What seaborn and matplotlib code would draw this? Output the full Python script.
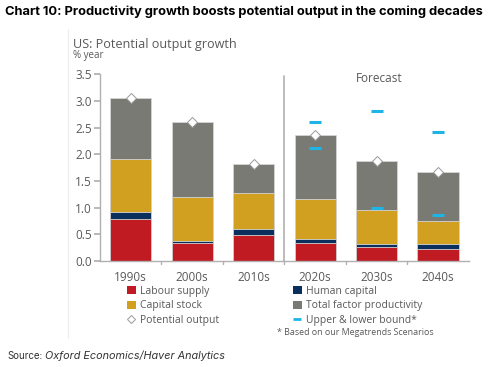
import numpy as np
import pandas as pd
import matplotlib
matplotlib.use("Agg")
import matplotlib.pyplot as plt
import seaborn as sns
from matplotlib.lines import Line2D
from matplotlib.patches import Patch

# datos del grafico
decades = ["1990s", "2000s", "2010s", "2020s", "2030s", "2040s"]
labour_supply = [0.79, 0.34, 0.49, 0.34, 0.27, 0.23]
human_capital = [0.12, 0.03, 0.10, 0.07, 0.05, 0.08]
capital_stock = [1.00, 0.82, 0.69, 0.75, 0.64, 0.43]
tfp = [1.15, 1.42, 0.53, 1.20, 0.92, 0.93]
potential_output = [3.06, 2.61, 1.81, 2.36, 1.88, 1.67]
upper_bound = [None, None, None, 2.61, 2.81, 2.42]
lower_bound = [None, None, None, 2.12, 0.99, 0.86]

c_red = "#C01A22"
c_navy = "#0A2F5C"
c_gold = "#D2A021"
c_grey = "#7A7A75"
c_cyan = "#1EB4E6"
c_text = "#595959"

sns.set_theme(style="white")
plt.rcParams["font.family"] = ["Open Sans", "DejaVu Sans"]

df = pd.DataFrame({
    "decade": decades,
    "labour": labour_supply,
    "human": human_capital,
    "capital": capital_stock,
    "tfp": tfp,
    "potential": potential_output,
    "upper": upper_bound,
    "lower": lower_bound,
})
# acumulados para las barras apiladas
df["c1"] = df["labour"]
df["c2"] = df["c1"] + df["human"]
df["c3"] = df["c2"] + df["capital"]
df["c4"] = df["c3"] + df["tfp"]

fig = plt.figure(figsize=(4.95, 3.67), dpi=100)
ax = fig.add_axes([0.202, 0.289, 0.745, 0.5087])

# capas de arriba hacia abajo
for col, color in [("c4", c_grey), ("c3", c_gold), ("c2", c_navy), ("c1", c_red)]:
    sns.barplot(data=df, x="decade", y=col, color=color, width=0.67,
                saturation=1, edgecolor="#d4d4d4", linewidth=0.6, ax=ax)

sns.scatterplot(data=df, x="decade", y="potential", marker="D", s=26,
                color="white", edgecolor="#9a9a9a", linewidth=0.7, zorder=5, ax=ax)
bounds = df.dropna(subset=["upper"])
for col in ["upper", "lower"]:
    sns.scatterplot(data=bounds, x="decade", y=col, marker="_", s=80,
                    color=c_cyan, linewidth=2.2, zorder=5, ax=ax)

ax.set_xlim(-0.5, 5.5)
ax.set_ylim(0, 3.5)
ax.set_yticks(np.arange(0, 3.51, 0.5))
ax.set_yticklabels([f"{v:.1f}" for v in np.arange(0, 3.51, 0.5)])
ax.set_xlabel("")
ax.set_ylabel("")
for s in ["top", "right"]:
    ax.spines[s].set_visible(False)
for s in ["left", "bottom"]:
    ax.spines[s].set_color("#b0b0b0")
    ax.spines[s].set_linewidth(1.0)
ax.spines["left"].set_bounds(0, 3.5)

ax.tick_params(axis="y", left=True, length=4, color="#b0b0b0", labelsize=8.5,
               labelcolor=c_text, pad=2)
ax.tick_params(axis="x", bottom=False, length=0, labelsize=8.5, labelcolor=c_text, pad=7)
# marcas entre categorias
for xb in np.arange(0.5, 5.0, 1.0):
    ax.plot([xb, xb], [0, -0.05], color="#b0b0b0", lw=1.0, clip_on=False)
ax.axvline(2.5, ymin=0, ymax=0.99, color="#b0b0b0", lw=1.2)
ax.text(4.05, 3.42, "Forecast", ha="center", va="center", fontsize=8.5, color=c_text)

# titulos
fig.text(0.01, 0.967, "Chart 10: Productivity growth boosts potential output in the coming decades",
         fontsize=9.3, fontweight="bold", color="black", family=["Inter", "DejaVu Sans"],
         va="center")
fig.text(0.147, 0.88, "US: Potential output growth", fontsize=9.1, color=c_text, va="center")
fig.text(0.147, 0.848, "% year", fontsize=7, color=c_text, va="center")

# borde de la imagen original
fig.add_artist(Line2D([0.137, 0.137], [0.08, 0.92], color="#ececec", lw=0.8))

handles = [
    Patch(facecolor=c_red, edgecolor="none"),
    Patch(facecolor=c_gold, edgecolor="none"),
    Line2D([], [], marker="D", ls="none", markersize=4, markerfacecolor="white",
           markeredgecolor="#9a9a9a", markeredgewidth=0.7),
    Patch(facecolor=c_navy, edgecolor="none"),
    Patch(facecolor=c_grey, edgecolor="none"),
    Line2D([], [], marker="_", ls="none", markersize=6, color=c_cyan, markeredgewidth=2),
]
labels = ["Labour supply", "Capital stock", "Potential output",
          "Human capital", "Total factor productivity", "Upper & lower bound*"]
fig.legend(handles, labels, ncol=2, loc="upper left", bbox_to_anchor=(0.257, 0.222),
           frameon=False, fontsize=7.5, labelcolor=c_text, handlelength=0.8,
           handleheight=0.8, handletextpad=0.45, columnspacing=7.1, labelspacing=0.35,
           borderpad=0, borderaxespad=0)
fig.text(0.56, 0.095, "* Based on our Megatrends Scenarios", fontsize=6.4, color=c_text,
         va="center")
fig.text(0.016, 0.03, "Source:", fontsize=7, color="#333333", va="center",
         family=["Inter", "DejaVu Sans"])
fig.text(0.091, 0.03, "Oxford Economics/Haver Analytics", fontsize=7.8, color="#333333",
         va="center", style="italic", family=["Inter", "DejaVu Sans"])

fig.savefig("out.png", dpi=100)
